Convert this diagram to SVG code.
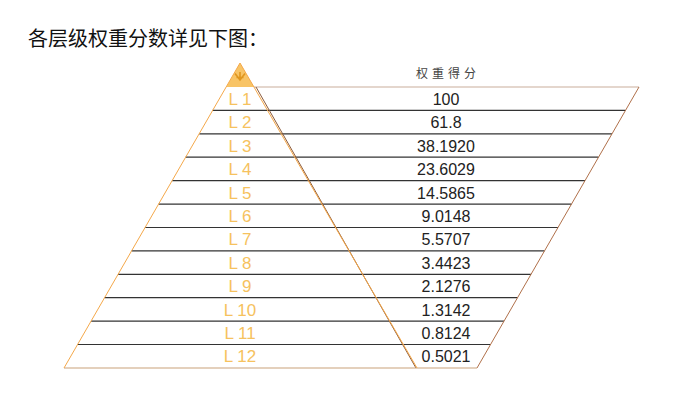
<svg xmlns="http://www.w3.org/2000/svg" width="684" height="395" viewBox="0 0 684 395">
<style>
.title{font-family:"Noto Sans CJK SC",sans-serif;font-size:20px;fill:#111}
.hdr{font-family:"Noto Sans CJK SC",sans-serif;font-size:12px;fill:#444;letter-spacing:4px}
.lvl{font-family:"Liberation Sans",sans-serif;font-size:17px;fill:#F6C25E;text-anchor:middle}
.val{font-family:"Liberation Sans",sans-serif;font-size:16px;fill:#222;text-anchor:middle}
.row{stroke:#333;stroke-width:1.2}
</style>
<rect width="684" height="395" fill="#fff"/>
<text class="title" x="28" y="46">各层级权重分数详见下图：</text>
<text class="hdr" x="416" y="78">权重得分</text>
<g id="connectors">
<line class="row" x1="212.6" y1="110.4" x2="625.5" y2="110.4"/>
<line class="row" x1="199.2" y1="133.8" x2="612.0" y2="133.8"/>
<line class="row" x1="185.6" y1="157.2" x2="598.5" y2="157.2"/>
<line class="row" x1="172.1" y1="180.7" x2="585.0" y2="180.7"/>
<line class="row" x1="158.6" y1="204.1" x2="571.5" y2="204.1"/>
<line class="row" x1="145.1" y1="227.5" x2="558.0" y2="227.5"/>
<line class="row" x1="131.6" y1="250.9" x2="544.5" y2="250.9"/>
<line class="row" x1="118.1" y1="274.3" x2="531.0" y2="274.3"/>
<line class="row" x1="104.6" y1="297.7" x2="517.5" y2="297.7"/>
<line class="row" x1="91.1" y1="321.1" x2="504.0" y2="321.1"/>
<line class="row" x1="77.6" y1="344.5" x2="490.6" y2="344.5"/>
</g>
<g id="table">
<line x1="254" y1="87" x2="639" y2="87" stroke="#C9AE9C" stroke-width="1.2"/>
<line x1="639" y1="87" x2="477" y2="368" stroke="#B0704A" stroke-width="1"/>
<line x1="256" y1="87" x2="416" y2="368" stroke="#8B5A3A" stroke-width="1"/>
<line x1="64" y1="368" x2="477" y2="368" stroke="#C9A27A" stroke-width="1.2"/>
</g>
<g id="pyramid">
<path d="M240,63 L226.3,87 L254,87 Z" fill="#F8C466"/>
<path d="M235,73.5 L240,80 L245,73.5 M240,72 L240,80 M236.5,77.5 L243.5,77.5" fill="none" stroke="#E0961E" stroke-width="1.6"/>
<path d="M240,63 L64,368 M240,63 L417,368" fill="none" stroke="#F4A84A" stroke-width="1"/>
</g>
<g id="labels">
<text class="lvl" x="240" y="105">L 1</text>
<text class="lvl" x="240" y="128">L 2</text>
<text class="lvl" x="240" y="151.5">L 3</text>
<text class="lvl" x="240" y="175">L 4</text>
<text class="lvl" x="240" y="198.5">L 5</text>
<text class="lvl" x="240" y="222">L 6</text>
<text class="lvl" x="240" y="245">L 7</text>
<text class="lvl" x="240" y="268.5">L 8</text>
<text class="lvl" x="240" y="292">L 9</text>
<text class="lvl" x="240" y="315.5">L 10</text>
<text class="lvl" x="240" y="339">L 11</text>
<text class="lvl" x="240" y="362">L 12</text>
</g>
<g id="values">
<text class="val" x="446" y="104.5">100</text>
<text class="val" x="446" y="128">61.8</text>
<text class="val" x="446" y="151.5">38.1920</text>
<text class="val" x="446" y="175">23.6029</text>
<text class="val" x="446" y="198.5">14.5865</text>
<text class="val" x="446" y="222">9.0148</text>
<text class="val" x="446" y="245">5.5707</text>
<text class="val" x="446" y="268.5">3.4423</text>
<text class="val" x="446" y="292">2.1276</text>
<text class="val" x="446" y="315.5">1.3142</text>
<text class="val" x="446" y="339">0.8124</text>
<text class="val" x="446" y="362">0.5021</text>
</g>
</svg>
